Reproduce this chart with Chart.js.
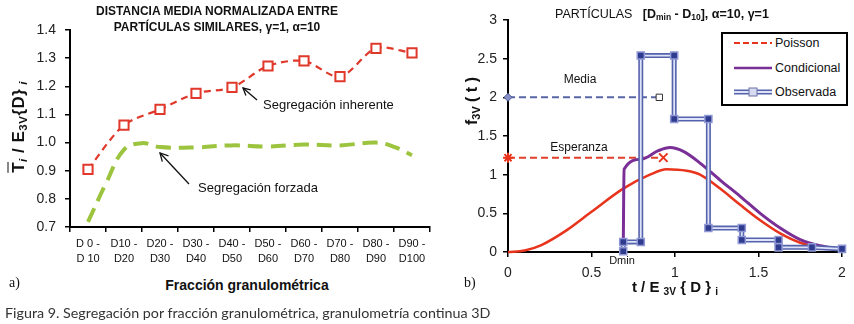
<!DOCTYPE html>
<html>
<head>
<meta charset="utf-8">
<script src="https://cdn.jsdelivr.net/npm/chart.js@4.4.1/dist/chart.umd.min.js"></script>
<style>
  body { margin: 0; background: #fff; }
  #fig { position: relative; width: 854px; height: 324px; overflow: hidden; background: #fff;
         font-family: 'Liberation Sans', Arial, sans-serif; color: #111; }
  canvas { position: absolute; top: 0; }
  .t { position: absolute; white-space: nowrap; transform: translate(-50%, -50%); line-height: 1; }
  .l { position: absolute; white-space: nowrap; transform: translate(0, -50%); line-height: 1; }
  .rot { transform: translate(-50%, -50%) rotate(-90deg); }
  sub { font-size: 0.68em; vertical-align: -0.3em; line-height: 0; }
  .serif { font-family: 'Liberation Serif', serif; font-size: 14px; }
  #legend { position: absolute; left: 721px; top: 32px; width: 123px; height: 70px;
            border: 2px solid #000; background: #fff; }
  #legend svg { position: absolute; left: 10px; }
  #legend span { position: absolute; left: 52px; font-size: 12.5px; transform: translate(0, -50%); }
</style>
</head>
<body>
<div id="fig">
  <canvas id="left" width="440" height="270" style="left:0"></canvas>
  <canvas id="right" width="424" height="300" style="left:430px"></canvas>

  <!-- left chart texts -->
  <div class="t" style="left:217px;top:11px;font-weight:bold;font-size:12px">DISTANCIA MEDIA NORMALIZADA ENTRE</div>
  <div class="t" style="left:217px;top:27px;font-weight:bold;font-size:12px">PARTÍCULAS SIMILARES, γ=1, α=10</div>
  <div class="t rot" style="left:18px;top:127px;font-weight:bold;font-size:17px;letter-spacing:0.5px"><span style="text-decoration:overline">T</span><sub><i>i</i></sub> / E<sub>3V</sub>{D}<sub> <i>i</i></sub></div>
  <div class="l" style="left:263px;top:104px;font-size:13px">Segregación inherente</div>
  <div class="l" style="left:198px;top:187px;font-size:13px">Segregación forzada</div>
  <div class="t" style="left:247px;top:285px;font-weight:bold;font-size:14px">Fracción granulométrica</div>
  <div class="l serif" style="left:9px;top:283px">a)</div>

  <!-- right chart texts -->
  <div class="l" style="left:555px;top:14px;font-size:12.5px">PARTÍCULAS&nbsp;&nbsp;&nbsp;<b>[D<sub>min</sub> - D<sub>10</sub>], α=10, γ=1</b></div>
  <div class="t rot" style="left:472px;top:101px;font-weight:bold;font-size:16px">f<sub>3V</sub> ( t )</div>
  <div class="t" style="left:580px;top:79px;font-size:12px">Media</div>
  <div class="t" style="left:579px;top:147px;font-size:12px">Esperanza</div>
  <div class="t" style="left:622px;top:260px;font-size:11px">Dmin</div>
  <div class="t" style="left:675px;top:286px;font-weight:bold;font-size:15px">t / E <sub>3V</sub> { D } <sub>i</sub></div>
  <div class="l serif" style="left:464px;top:283px">b)</div>

  <div id="legend">
    <svg width="40" height="12" style="top:3px"><line x1="1" y1="6" x2="39" y2="6" stroke="#e8341c" stroke-width="2" stroke-dasharray="6,3"/></svg>
    <span style="top:9px">Poisson</span>
    <svg width="40" height="12" style="top:28px"><line x1="1" y1="6" x2="39" y2="6" stroke="#7a2f96" stroke-width="2.5"/></svg>
    <span style="top:34px">Condicional</span>
    <svg width="40" height="12" style="top:52px"><line x1="1" y1="6" x2="39" y2="6" stroke="#5563ad" stroke-width="5"/><line x1="1" y1="6" x2="39" y2="6" stroke="#dfe3f7" stroke-width="1.8"/><rect x="16" y="2" width="8" height="8" fill="#d6dbef" stroke="#6a72a8" stroke-width="1"/></svg>
    <span style="top:58px">Observada</span>
  </div>

  <!-- annotation arrows -->
  <svg width="854" height="324" style="position:absolute;left:0;top:0;pointer-events:none" fill="none" stroke="#111" stroke-width="1.3">
    <line x1="243" y1="88" x2="257" y2="100"/>
    <path d="M245.9,95.4 L243,88 L250.8,89.8"/>
    <line x1="160" y1="153" x2="189" y2="184"/>
    <path d="M162.3,161.7 L160,153 L168.5,155.9"/>
  </svg>

  <div class="l" style="left:5px;top:313px;font-family:Lato,'Open Sans',sans-serif;font-size:14.3px;color:#333">Figura 9. Segregación por fracción granulométrica, granulometría continua 3D</div>
</div>

<script>
// --- LEFT CHART DATA ---
const fractions = [['D 0 -', 'D 10'], ['D10 -', 'D20'], ['D20 -', 'D30'], ['D30 -', 'D40'], ['D40 -', 'D50'],
                   ['D50 -', 'D60'], ['D60 -', 'D70'], ['D70 -', 'D80'], ['D80 -', 'D90'], ['D90 -', 'D100']];
const inherente = [0.905, 1.062, 1.118, 1.175, 1.196, 1.272, 1.290, 1.234, 1.335, 1.319];
const forzadaPos = [0, 0.5, 1, 1.5, 2, 3, 4, 5, 6, 7, 8, 8.5, 9];
const forzada = [0.718, 0.855, 0.975, 0.998, 0.984, 0.983, 0.99, 0.986, 0.993, 0.99, 1.0, 0.985, 0.955];
const leftTicks = [0.7, 0.8, 0.9, 1.0, 1.1, 1.2, 1.3, 1.4];

// --- RIGHT CHART DATA ---
const poissonT = [0, 0.1, 0.2, 0.35, 0.5, 0.69, 0.85, 0.95, 1.07, 1.15, 1.27, 1.39, 1.51, 1.63, 1.75, 1.87, 2.0];
const poisson  = [0, 0.02, 0.09, 0.28, 0.52, 0.82, 1.0, 1.07, 1.05, 1.0, 0.82, 0.61, 0.41, 0.24, 0.12, 0.06, 0.02];
const condT = [0.69, 0.695, 0.8, 0.9, 0.97, 1.05, 1.15, 1.27, 1.39, 1.51, 1.63, 1.75, 1.87, 2.0];
const cond  = [0, 1.07, 1.2, 1.31, 1.35, 1.3, 1.15, 0.93, 0.72, 0.5, 0.31, 0.16, 0.08, 0.03];
const obsT = [0.69, 0.69, 0.795, 0.795, 0.995, 0.995, 1.2, 1.2, 1.4, 1.4, 1.62, 1.62, 1.82, 2.0];
const obs  = [0.01, 0.13, 0.13, 2.54, 2.54, 1.72, 1.72, 0.31, 0.31, 0.155, 0.155, 0.06, 0.06, 0.04];
const mediaT = [0, 0.906];
const media  = [2.0, 2.0];
const esperanzaT = [0, 0.93];
const esperanza  = [1.22, 1.22];

const pts = (xs, ys) => xs.map((x, i) => ({ x: x, y: ys[i] }));

Chart.defaults.font.family = "'Liberation Sans', Arial, sans-serif";
Chart.defaults.color = '#222';

const axisGrid = { display: true, drawOnChartArea: false, color: '#000', lineWidth: 1.5, tickLength: 5 };
const axisBorder = { display: true, color: '#000', width: 2 };

// --- LEFT: distancia media normalizada ---
new Chart(document.getElementById('left'), {
    type: 'line',
    data: {
        labels: fractions,
        datasets: [{
            data: inherente,
            borderColor: '#e0382a',
            borderWidth: 2.2,
            borderDash: [7, 5],
            tension: 0.3,
            pointStyle: 'rect',
            pointRadius: 6.5,
            pointBorderWidth: 2,
            pointBorderColor: '#e0382a',
            pointBackgroundColor: '#fff',
            clip: false
        }, {
            data: pts(forzadaPos, forzada),
            xAxisID: 'x2',
            borderColor: '#9cc43e',
            borderWidth: 4,
            borderDash: [15, 8],
            tension: 0.4,
            pointRadius: 0,
            clip: false
        }]
    },
    options: {
        responsive: false,
        animation: false,
        devicePixelRatio: 1,
        layout: { padding: { left: 0, top: 30, right: 10, bottom: 0 } },
        plugins: { legend: { display: false }, tooltip: { enabled: false } },
        scales: {
            x: {
                type: 'category',
                offset: true,
                grid: Object.assign({}, axisGrid, { offset: true }),
                border: axisBorder,
                ticks: { color: '#111', font: { size: 11, lineHeight: 1.4 }, padding: 4, maxRotation: 0, autoSkip: false },
                afterFit: s => { s.height = 43; }
            },
            x2: { type: 'linear', display: false, min: -0.5, max: 9.5 },
            y: {
                min: 0.7, max: 1.4,
                grid: axisGrid,
                border: axisBorder,
                afterBuildTicks: s => { s.ticks = leftTicks.map(v => ({ value: v })); },
                ticks: { font: { size: 14 }, padding: 9, callback: v => v.toFixed(1) },
                afterFit: s => { s.width = 70; }
            }
        }
    }
});

// --- RIGHT: f3V(t) ---
new Chart(document.getElementById('right'), {
    type: 'line',
    data: {
        datasets: [{
            // observada, inner light line + markers
            data: pts(obsT, obs),
            borderColor: '#dfe3f7',
            borderWidth: 1.8,
            pointStyle: 'rect',
            pointRadius: 5,
            pointBackgroundColor: '#2f3b8e',
            pointBorderColor: '#8f98d4',
            pointBorderWidth: 1.5,
            clip: false
        }, {
            // observada, outer blue line
            data: pts(obsT, obs),
            borderColor: '#5563ad',
            borderWidth: 5,
            pointRadius: 0,
            clip: false
        }, {
            data: pts(condT, cond),
            borderColor: '#7a2f96',
            borderWidth: 3,
            cubicInterpolationMode: 'monotone',
            pointRadius: 0,
            clip: false
        }, {
            data: pts(poissonT, poisson),
            borderColor: '#e8341c',
            borderWidth: 2.5,
            cubicInterpolationMode: 'monotone',
            pointRadius: 0,
            clip: false
        }, {
            data: pts(mediaT, media),
            borderColor: '#5866a6',
            borderWidth: 2,
            borderDash: [7, 4],
            pointStyle: ['rectRot', 'rect'],
            pointRadius: [4, 4.5],
            pointBorderColor: ['#4a5898', '#333'],
            pointBackgroundColor: ['#8890c8', '#fff'],
            pointBorderWidth: 1,
            clip: false
        }, {
            data: pts(esperanzaT, esperanza),
            borderColor: '#e0402a',
            borderWidth: 2,
            borderDash: [7, 4],
            pointStyle: ['star', 'crossRot'],
            pointRadius: [5, 6],
            pointBorderColor: '#e8341c',
            pointBorderWidth: 2,
            clip: false
        }]
    },
    options: {
        responsive: false,
        animation: false,
        devicePixelRatio: 1,
        layout: { padding: { left: 0, top: 20, right: 12, bottom: 0 } },
        plugins: { legend: { display: false }, tooltip: { enabled: false } },
        scales: {
            x: {
                type: 'linear',
                min: 0, max: 2,
                grid: axisGrid,
                border: axisBorder,
                ticks: { stepSize: 0.5, font: { size: 14 }, padding: 8, callback: v => String(v) },
                afterFit: s => { s.height = 48; }
            },
            y: {
                min: 0, max: 3,
                grid: axisGrid,
                border: axisBorder,
                ticks: { stepSize: 0.5, font: { size: 14 }, padding: 6, callback: v => String(v) },
                afterFit: s => { s.width = 78; }
            }
        }
    }
});
</script>
</body>
</html>
